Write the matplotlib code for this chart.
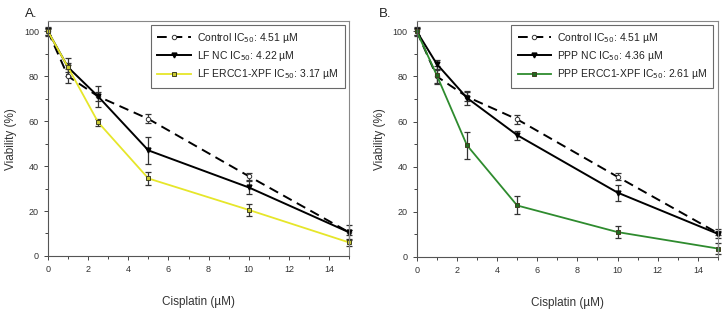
import numpy as np
import matplotlib.pyplot as plt

plt.rcParams['font.family'] = ['Liberation Sans', 'DejaVu Sans']

# doses (uM)
dose = [0, 1, 2.5, 5, 10, 15]

# panel A
ctrl = [100, 80, 71, 61, 35.5, 10.5]
ctrl_err = [1.5, 3, 2, 2, 1.5, 1]
lf_nc = [100, 84, 71, 47, 30.5, 10.5]
lf_nc_err = [2, 4, 4.5, 6, 3, 3.5]
lf_ko = [100, 84, 59.5, 34.5, 20.5, 6]
lf_ko_err = [1.5, 2, 1.5, 3, 2.5, 1.5]

# panel B
ppp_nc = [100, 85.5, 70.5, 54, 28.5, 10.2]
ppp_nc_err = [2, 2, 3, 2, 3.5, 2]
ppp_ko = [100, 80.5, 49.5, 22.8, 11, 3.7]
ppp_ko_err = [1.5, 4, 6, 4, 2.5, 2.5]

labels_a = ['Control IC$_{50}$: 4.51 µM', 'LF NC IC$_{50}$: 4.22 µM',
            'LF ERCC1-XPF IC$_{50}$: 3.17 µM']
labels_b = ['Control IC$_{50}$: 4.51 µM', 'PPP NC IC$_{50}$: 4.36 µM',
            'PPP ERCC1-XPF IC$_{50}$: 2.61 µM']

fig = plt.figure(figsize=(7.26, 3.16), dpi=100)
ax1 = fig.add_axes([0.066, 0.19, 0.415, 0.743])
ax2 = fig.add_axes([0.574, 0.187, 0.415, 0.746])

ebar = dict(fmt='none', ecolor='#333333', elinewidth=0.9, capsize=2.5, capthick=0.9,
            clip_on=False)


def panel(ax, nc, nc_err, ko, ko_err, ko_line, ko_face, labels):
    ax.errorbar(dose, ctrl, yerr=ctrl_err, **ebar)
    ax.errorbar(dose, nc, yerr=nc_err, **ebar)
    ax.errorbar(dose, ko, yerr=ko_err, **ebar)
    ax.plot(dose, ctrl, color='black', ls=(0, (5, 3)), lw=1.4,
            marker='o', ms=3.2, mfc='white', mec='#333333', mew=0.7,
            label=labels[0], clip_on=False)
    ax.plot(dose, nc, color='black', lw=1.4,
            marker='v', ms=3.5, mfc='black', mec='black',
            label=labels[1], clip_on=False)
    ax.plot(dose, ko, color=ko_line, lw=1.3,
            marker='s', ms=3.5, mfc=ko_face, mec='#404020', mew=0.7,
            label=labels[2], clip_on=False)
    ax.set_xlim(0, 15)
    ax.set_ylim(0, 104.5)
    ax.set_xticks(range(0, 16, 2))
    ax.set_xticks(range(1, 16, 2), minor=True)
    ax.set_yticks(range(0, 101, 20))
    ax.set_yticks(range(10, 101, 20), minor=True)
    ax.tick_params(which='both', direction='out', labelsize=6.5,
                   colors='#444444', labelcolor='#333333', width=0.7)
    ax.tick_params(which='major', length=3)
    ax.tick_params(which='minor', length=2)
    for s in ['left', 'bottom']:
        ax.spines[s].set_color('#555555')
        ax.spines[s].set_linewidth(0.8)
    for s in ['top', 'right']:
        ax.spines[s].set_color('#888888')
        ax.spines[s].set_linewidth(0.8)
    for sp in ax.spines.values():
        sp.set_zorder(5)
    ax.set_xlabel('Cisplatin (µM)', fontsize=8.5, color='#333333', labelpad=16)
    ax.set_ylabel('Viability (%)', fontsize=8.5, color='#333333', labelpad=5)
    leg = ax.legend(loc='upper right', bbox_to_anchor=(0.985, 0.985), fontsize=7.5,
                    frameon=True, fancybox=False, edgecolor='#444444',
                    handlelength=3.2, handletextpad=0.6, borderpad=0.6,
                    labelspacing=0.4, borderaxespad=0.0, numpoints=1)
    leg.get_frame().set_linewidth(0.8)
    for t in leg.get_texts():
        t.set_color('#222222')


panel(ax1, lf_nc, lf_nc_err, lf_ko, lf_ko_err, '#e6e62a', '#c8c832', labels_a)
panel(ax2, ppp_nc, ppp_nc_err, ppp_ko, ppp_ko_err, '#2e8b2e', '#1f6b1f', labels_b)

fig.text(0.034, 0.955, 'A.', fontsize=9.5, color='#222222', va='center')
fig.text(0.522, 0.955, 'B.', fontsize=9.5, color='#222222', va='center')

fig.savefig('out.png', dpi=100)
